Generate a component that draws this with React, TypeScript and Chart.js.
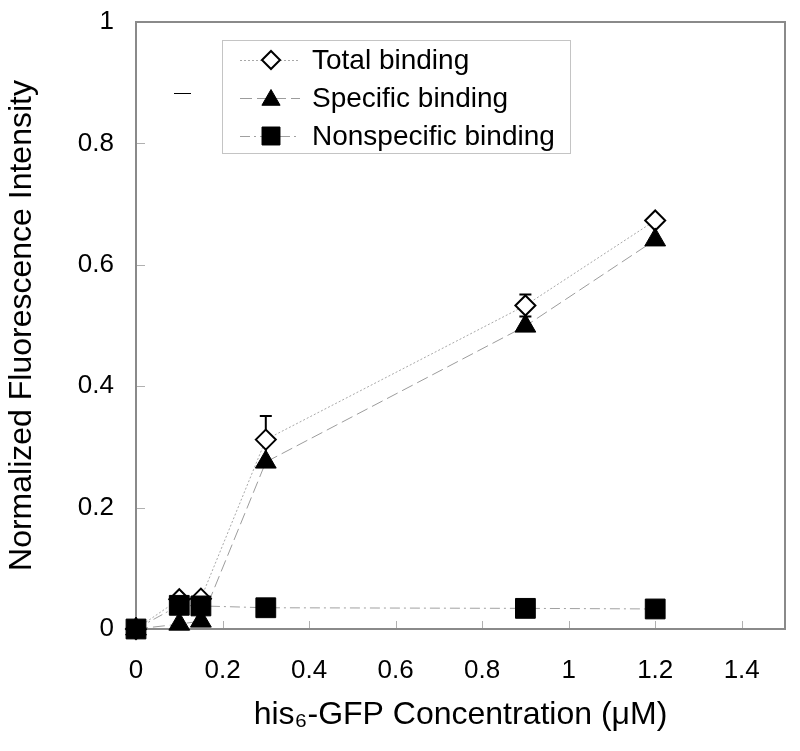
import React, { useEffect, useRef } from "react";
import { Chart, registerables } from "chart.js";
import { drawPoint } from "chart.js/helpers";

Chart.register(...registerables);

const concentrations = [0, 0.1, 0.15, 0.3, 0.9, 1.2];
const totalBinding = [0, 0.049, 0.05, 0.312, 0.533, 0.673];
const totalBindingErr = [0, 0.004, 0.004, 0.039, 0.018, 0.004];
const specificBinding = [0, 0.008, 0.013, 0.275, 0.499, 0.641];
const nonspecificBinding = [0, 0.039, 0.038, 0.035, 0.034, 0.033];
const xTickValues = [0, 0.2, 0.4, 0.6, 0.8, 1, 1.2, 1.4];
const yTickValues = [0, 0.2, 0.4, 0.6, 0.8, 1];
const seriesLabels = ["Total binding", "Specific binding", "Nonspecific binding"];
const xTitle = "his\u2086-GFP Concentration (\u03bcM)";
const yTitle = "Normalized Fluorescence Intensity";

const FONT = "'Liberation Sans', Arial, Helvetica, sans-serif";

const decorPlugin = {
  id: "decor",
  beforeDatasetsDraw(chart: any) {
    const { ctx, chartArea, scales } = chart;
    const { left, right, top, bottom } = chartArea;
    const xs = scales.x;
    const ys = scales.y;
    ctx.save();
    ctx.strokeStyle = "#b0b0b0";
    ctx.lineWidth = 1;
    xTickValues.forEach((v) => {
      const px = Math.round(xs.getPixelForValue(v)) + 0.5;
      if (px <= left + 2 || px >= right - 2) return;
      ctx.beginPath();
      ctx.moveTo(px, bottom);
      ctx.lineTo(px, bottom - 8);
      ctx.stroke();
    });
    yTickValues.forEach((v) => {
      const py = Math.round(ys.getPixelForValue(v)) + 0.5;
      if (py <= top + 2 || py >= bottom - 2) return;
      ctx.beginPath();
      ctx.moveTo(left, py);
      ctx.lineTo(left + 9, py);
      ctx.stroke();
    });
    ctx.strokeStyle = "#8a8a8a";
    ctx.lineWidth = 2;
    ctx.strokeRect(left, top, right - left, bottom - top);
    ctx.strokeStyle = "#000";
    ctx.lineWidth = 2;
    concentrations.forEach((c, i) => {
      const e = totalBindingErr[i];
      if (!e) return;
      const px = xs.getPixelForValue(c);
      const y1 = ys.getPixelForValue(totalBinding[i] + e);
      const y2 = ys.getPixelForValue(totalBinding[i] - e);
      ctx.beginPath();
      ctx.moveTo(px, y1);
      ctx.lineTo(px, y2);
      ctx.moveTo(px - 6, y1);
      ctx.lineTo(px + 6, y1);
      ctx.moveTo(px - 6, y2);
      ctx.lineTo(px + 6, y2);
      ctx.stroke();
    });
    ctx.restore();
  },
  afterDraw(chart: any) {
    const { ctx, chartArea } = chart;
    const bx = chartArea.left + 86;
    const by = chartArea.top + 18;
    const bw = 348;
    const bh = 113;
    ctx.save();
    ctx.strokeStyle = "#000";
    ctx.lineWidth = 1;
    ctx.beginPath();
    ctx.moveTo(bx - 48, by + 53.5);
    ctx.lineTo(bx - 31, by + 53.5);
    ctx.stroke();
    ctx.fillStyle = "#fff";
    ctx.fillRect(bx, by, bw, bh);
    ctx.strokeStyle = "#c4c4c4";
    ctx.lineWidth = 1;
    ctx.strokeRect(bx + 0.5, by + 0.5, bw, bh);
    [0, 1, 2].forEach((di, row) => {
      const ds = chart.data.datasets[di];
      const cy = by + 20 + row * 38;
      ctx.save();
      ctx.strokeStyle = ds.borderColor;
      ctx.lineWidth = 1;
      ctx.setLineDash(ds.borderDash || []);
      ctx.beginPath();
      ctx.moveTo(bx + 18, cy + 0.5);
      ctx.lineTo(bx + 78, cy + 0.5);
      ctx.stroke();
      ctx.restore();
      ctx.save();
      ctx.fillStyle = ds.pointBackgroundColor;
      ctx.strokeStyle = ds.pointBorderColor;
      ctx.lineWidth = ds.pointBorderWidth;
      const r = ds.pointStyle === "rect" ? 12.7 : ds.pointStyle === "triangle" ? 10.5 : 9;
      drawPoint(ctx, { pointStyle: ds.pointStyle, radius: r, borderWidth: ds.pointBorderWidth, rotation: 0 }, bx + 49, ds.pointStyle === "triangle" ? cy + 2 : cy);
      ctx.restore();
      ctx.fillStyle = "#000";
      ctx.font = `28px ${FONT}`;
      ctx.textBaseline = "middle";
      ctx.textAlign = "left";
      ctx.fillText(ds.label, bx + 90, cy + 1);
    });
    ctx.restore();
  },
};

export default function App() {
  const canvasRef = useRef<HTMLCanvasElement | null>(null);

  useEffect(() => {
    document.body.style.margin = "0";
    const canvas = canvasRef.current;
    if (!canvas) return;
    const toPoints = (ys: number[]) => concentrations.map((x, i) => ({ x, y: ys[i] }));
    const fmt = (v: any) => String(Math.round(Number(v) * 10) / 10);
    const chart = new Chart(canvas, {
      type: "line",
      data: {
        datasets: [
          {
            label: seriesLabels[0],
            data: toPoints(totalBinding),
            borderColor: "#a8a8a8",
            borderWidth: 1,
            borderDash: [2, 2],
            pointStyle: "rectRot",
            pointRadius: 10,
            pointBackgroundColor: "#ffffff",
            pointBorderColor: "#000000",
            pointBorderWidth: 2,
            order: 2,
            clip: false,
          },
          {
            label: seriesLabels[1],
            data: toPoints(specificBinding),
            borderColor: "#9c9c9c",
            borderWidth: 1,
            borderDash: [12, 5],
            pointStyle: "triangle",
            pointRadius: 12,
            pointBackgroundColor: "#000000",
            pointBorderColor: "#000000",
            pointBorderWidth: 1,
            order: 1,
            clip: false,
          },
          {
            label: seriesLabels[2],
            data: toPoints(nonspecificBinding),
            borderColor: "#a0a0a0",
            borderWidth: 1,
            borderDash: [10, 4, 2, 4],
            pointStyle: "rect",
            pointRadius: 14,
            pointBackgroundColor: "#000000",
            pointBorderColor: "#000000",
            pointBorderWidth: 1,
            order: 0,
            clip: false,
          },
        ],
      },
      options: {
        responsive: false,
        animation: false,
        layout: { padding: { top: 22, right: 14, left: 0, bottom: 0 } },
        plugins: {
          legend: { display: false },
          tooltip: { enabled: false },
        },
        scales: {
          x: {
            type: "linear",
            min: 0,
            max: 1.5,
            afterBuildTicks: (scale: any) => {
              scale.ticks = xTickValues.map((value) => ({ value }));
            },
            afterFit: (scale: any) => {
              scale.height = 122;
              scale.paddingLeft = 0;
              scale.paddingRight = 0;
            },
            grid: { display: false, drawTicks: false },
            border: { display: false },
            ticks: {
              color: "#000",
              padding: 26,
              font: { family: FONT, size: 26 },
              maxRotation: 0,
              autoSkip: false,
              callback: fmt,
            },
            title: {
              display: true,
              text: xTitle,
              color: "#000",
              font: { family: FONT, size: 32 },
              padding: { top: 0, bottom: 17 },
            },
          },
          y: {
            type: "linear",
            min: 0,
            max: 1,
            afterBuildTicks: (scale: any) => {
              scale.ticks = yTickValues.map((value) => ({ value }));
            },
            afterFit: (scale: any) => {
              scale.width = 136;
              scale.paddingTop = 0;
              scale.paddingBottom = 0;
            },
            grid: { display: false, drawTicks: false },
            border: { display: false },
            ticks: {
              color: "#000",
              padding: 22,
              font: { family: FONT, size: 26 },
              autoSkip: false,
              callback: fmt,
            },
            title: {
              display: true,
              text: yTitle,
              color: "#000",
              font: { family: FONT, size: 32 },
              padding: { top: 3, bottom: 0 },
            },
          },
        },
      },
      plugins: [decorPlugin],
    } as any);
    return () => chart.destroy();
  }, []);

  return (
    <div style={{ width: 800, height: 751 }}>
      <canvas ref={canvasRef} width={800} height={751} style={{ display: "block" }} />
    </div>
  );
}
